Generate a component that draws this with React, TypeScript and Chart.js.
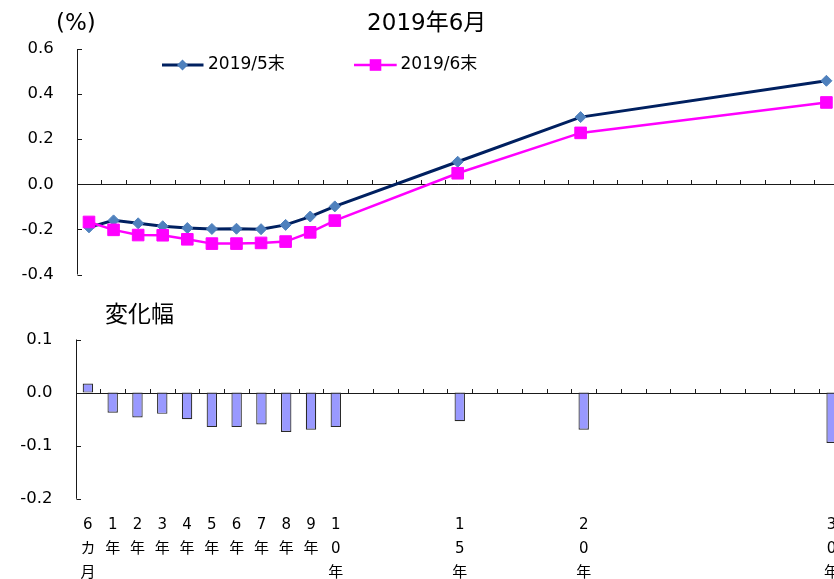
import React, { useEffect, useRef } from "react";
import { Chart, registerables } from "chart.js";

Chart.register(...registerables);

// ---- data ----
const axisCategories = [
  "6カ月", "1年", "2年", "3年", "4年", "5年", "6年", "7年", "8年", "9年", "10年",
  "11年", "12年", "13年", "14年", "15年", "16年", "17年", "18年", "19年", "20年",
  "21年", "22年", "23年", "24年", "25年", "26年", "27年", "28年", "29年", "30年",
];
const tenors = ["6カ月", "1年", "2年", "3年", "4年", "5年", "6年", "7年", "8年", "9年", "10年", "15年", "20年", "30年"];
const yieldMay = [-0.191, -0.160, -0.173, -0.186, -0.194, -0.198, -0.197, -0.199, -0.180, -0.143, -0.098, 0.100, 0.298, 0.459];
const yieldJun = [-0.167, -0.202, -0.225, -0.226, -0.244, -0.263, -0.263, -0.260, -0.254, -0.213, -0.161, 0.049, 0.228, 0.363];
const change = [0.017, -0.038, -0.047, -0.040, -0.050, -0.065, -0.065, -0.060, -0.074, -0.070, -0.065, -0.054, -0.070, -0.095];
const seriesNames = ["2019/5末", "2019/6末"];
const titleText = "2019年6月";
const unitText = "(%)";
const changeTitle = "変化幅";
const topTicks = { min: -0.4, max: 0.6, step: 0.2 };
const bottomTicks = { min: -0.2, max: 0.1, step: 0.1 };

// ---- styles ----
const FONT = '"DejaVu Sans", "Noto Sans CJK JP", sans-serif';
const AXIS = "#1a1a1a";
const NAVY = "#002060";
const STEEL = "#4F81BD";
const MAGENTA = "#FF00FF";
const BAR = "#9999FF";
const TICK = 4.5;

const axesPlugin = {
  id: "customAxes",
  beforeDatasetsDraw(chart: any) {
    const { ctx, chartArea: a, scales } = chart;
    const x = scales.x;
    const y = scales.y;
    ctx.save();
    ctx.strokeStyle = AXIS;
    ctx.lineWidth = 1;
    ctx.beginPath();
    const lx = Math.round(a.left) + 0.5;
    ctx.moveTo(lx, a.top);
    ctx.lineTo(lx, a.bottom);
    y.ticks.forEach((t: any) => {
      const py = Math.round(y.getPixelForValue(t.value)) + 0.5;
      ctx.moveTo(lx, py);
      ctx.lineTo(lx + TICK, py);
    });
    const y0 = Math.round(y.getPixelForValue(0)) + 0.5;
    ctx.moveTo(lx, y0);
    ctx.lineTo(a.right, y0);
    for (let i = 1; i <= axisCategories.length; i++) {
      const p1 = x.getPixelForValue(i - 1);
      const p2 = i < axisCategories.length ? x.getPixelForValue(i) : p1 + (p1 - x.getPixelForValue(i - 2));
      const bx = Math.round((p1 + p2) / 2) + 0.5;
      ctx.moveTo(bx, y0);
      ctx.lineTo(bx, y0 - TICK);
    }
    ctx.stroke();
    ctx.restore();
  },
};

const topTextPlugin = {
  id: "topText",
  afterDraw(chart: any) {
    const { ctx } = chart;
    ctx.save();
    ctx.fillStyle = "#000";
    ctx.textBaseline = "middle";
    ctx.font = `23px ${FONT}`;
    ctx.textAlign = "center";
    ctx.fillText(titleText, 426.7, 24);
    ctx.font = `23px ${FONT}`;
    ctx.textAlign = "left";
    ctx.fillText(unitText, 56, 24);

    // legend
    const ly = 65;
    ctx.lineWidth = 3;
    ctx.strokeStyle = NAVY;
    ctx.beginPath();
    ctx.moveTo(162, ly);
    ctx.lineTo(203.5, ly);
    ctx.stroke();
    ctx.fillStyle = STEEL;
    ctx.beginPath();
    ctx.moveTo(182.5, ly - 5.5);
    ctx.lineTo(188, ly);
    ctx.lineTo(182.5, ly + 5.5);
    ctx.lineTo(177, ly);
    ctx.closePath();
    ctx.fill();

    ctx.lineWidth = 2.5;
    ctx.strokeStyle = MAGENTA;
    ctx.beginPath();
    ctx.moveTo(354, ly);
    ctx.lineTo(396.7, ly);
    ctx.stroke();
    ctx.fillStyle = MAGENTA;
    ctx.fillRect(375.5 - 5.8, ly - 5.8, 11.6, 11.6);

    ctx.fillStyle = "#000";
    ctx.font = `17px ${FONT}`;
    ctx.fillText(seriesNames[0], 208, ly);
    ctx.fillText(seriesNames[1], 400.5, ly);
    ctx.restore();
  },
};

const bottomTextPlugin = {
  id: "bottomText",
  afterDraw(chart: any) {
    const { ctx } = chart;
    ctx.save();
    ctx.fillStyle = "#000";
    ctx.textBaseline = "middle";
    ctx.textAlign = "left";
    ctx.font = `23px ${FONT}`;
    ctx.fillText(changeTitle, 105, 26);
    ctx.restore();
  },
};

const yTickLabel = (v: any) => Number(v).toFixed(1);

export default function App() {
  const topRef = useRef<HTMLCanvasElement>(null);
  const botRef = useRef<HTMLCanvasElement>(null);

  useEffect(() => {
    const topChart = new Chart(topRef.current as HTMLCanvasElement, {
      type: "line",
      data: {
        labels: axisCategories,
        datasets: [
          {
            label: seriesNames[0],
            data: tenors.map((t, i) => ({ x: t, y: yieldMay[i] })) as any,
            borderColor: NAVY,
            borderWidth: 3,
            pointStyle: "rectRot",
            pointRadius: 5.5,
            pointBackgroundColor: STEEL,
            pointBorderColor: STEEL,
            pointBorderWidth: 1,
            tension: 0,
            order: 1,
          },
          {
            label: seriesNames[1],
            data: tenors.map((t, i) => ({ x: t, y: yieldJun[i] })) as any,
            borderColor: MAGENTA,
            borderWidth: 2.5,
            pointStyle: "rect",
            pointRadius: 8.2,
            pointBackgroundColor: MAGENTA,
            pointBorderColor: MAGENTA,
            pointBorderWidth: 1,
            tension: 0,
            order: 0,
          },
        ],
      },
      options: {
        responsive: false,
        maintainAspectRatio: false,
        animation: false,
        layout: { padding: { left: 0, right: 21.3, top: 49, bottom: 25.5 } },
        plugins: { legend: { display: false }, title: { display: false }, tooltip: { enabled: false } },
        scales: {
          x: {
            type: "category",
            display: false,
            offset: true,
            afterFit: (s: any) => {
              s.height = 0;
              s.paddingLeft = 0;
              s.paddingRight = 0;
              s.paddingTop = 0;
              s.paddingBottom = 0;
            },
          },
          y: {
            min: topTicks.min,
            max: topTicks.max,
            ticks: {
              stepSize: topTicks.step,
              callback: yTickLabel,
              color: "#000",
              padding: 23,
              font: { family: FONT, size: 16.5 },
            },
            grid: { display: false, drawTicks: false, tickLength: 0 },
            border: { display: false },
            afterFit: (s: any) => {
              s.width = 76.7;
              s.paddingTop = 0;
              s.paddingBottom = 0;
            },
          },
        },
      } as any,
      plugins: [axesPlugin, topTextPlugin],
    });

    const botChart = new Chart(botRef.current as HTMLCanvasElement, {
      type: "bar",
      data: {
        labels: axisCategories,
        datasets: [
          {
            label: changeTitle,
            data: tenors.map((t, i) => ({ x: t, y: change[i] })) as any,
            backgroundColor: BAR,
            borderColor: "#2a2a2a",
            borderWidth: 1.2,
            borderSkipped: false,
            categoryPercentage: 1,
            barPercentage: 0.42,
          },
        ],
      },
      options: {
        responsive: false,
        maintainAspectRatio: false,
        animation: false,
        layout: { padding: { left: 0, right: 26, top: 49.5, bottom: 0 } },
        plugins: { legend: { display: false }, title: { display: false }, tooltip: { enabled: false } },
        scales: {
          x: {
            type: "category",
            offset: true,
            grid: { display: false, drawTicks: false, tickLength: 0 },
            border: { display: false },
            ticks: {
              autoSkip: false,
              maxRotation: 0,
              minRotation: 0,
              padding: 14.4,
              color: "#000",
              font: { family: FONT, size: 15, lineHeight: 1.6 },
              callback: (_v: any, index: number) => {
                const lab = axisCategories[index];
                return tenors.includes(lab) ? Array.from(lab) : "";
              },
            },
            afterFit: (s: any) => {
              s.height = 91.2;
            },
          },
          y: {
            min: bottomTicks.min,
            max: bottomTicks.max,
            ticks: {
              stepSize: bottomTicks.step,
              callback: yTickLabel,
              color: "#000",
              padding: 23,
              font: { family: FONT, size: 16.5 },
            },
            grid: { display: false, drawTicks: false, tickLength: 0 },
            border: { display: false },
            afterFit: (s: any) => {
              s.width = 75.5;
            },
          },
        },
      } as any,
      plugins: [axesPlugin, bottomTextPlugin],
    });

    return () => {
      topChart.destroy();
      botChart.destroy();
    };
  }, []);

  return (
    <div
      style={{
        position: "fixed",
        left: 0,
        top: 0,
        width: 834,
        height: 579,
        overflow: "hidden",
        background: "#fff",
      }}
    >
      <canvas
        ref={topRef}
        width={860}
        height={300}
        style={{ position: "absolute", left: 0, top: 0, width: 860, height: 300 }}
      />
      <canvas
        ref={botRef}
        width={870}
        height={300}
        style={{ position: "absolute", left: 0, top: 290, width: 870, height: 300 }}
      />
    </div>
  );
}
